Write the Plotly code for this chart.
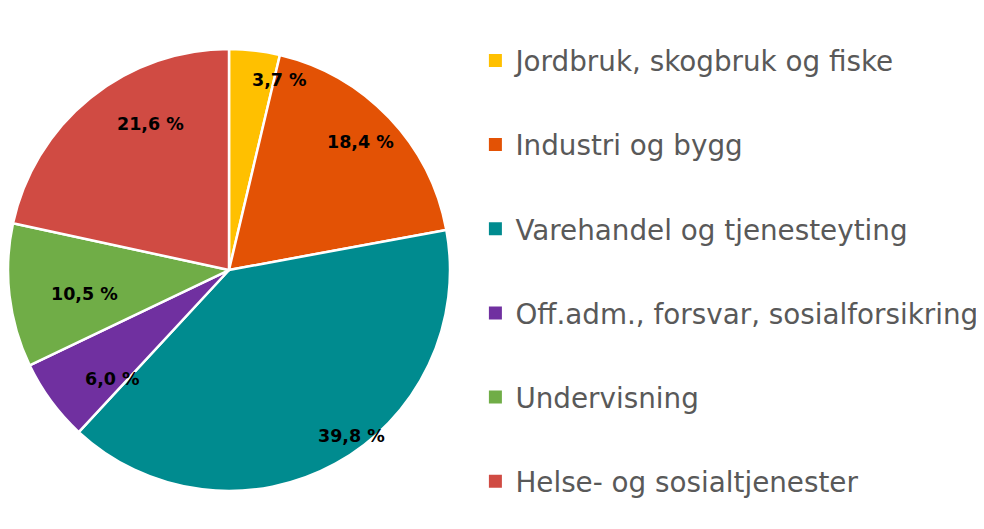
import math
import plotly.graph_objects as go

categories = [
    "Jordbruk, skogbruk og fiske",
    "Industri og bygg",
    "Varehandel og tjenesteyting",
    "Off.adm., forsvar, sosialforsikring",
    "Undervisning",
    "Helse- og sosialtjenester",
]
values = [3.7, 18.4, 39.8, 6.0, 10.5, 21.6]
colors = ["#FFC000", "#E35205", "#008B8F", "#7030A0", "#70AD47", "#D04B43"]

W, H = 984, 529
labels_txt = [f"{v:.1f}".replace(".", ",") + " %" for v in values]

# pie domain (paper fractions)
dom_x = [0.0, 0.4492]
dom_y = [0.0869, 0.9225]

fig = go.Figure()
fig.add_trace(go.Pie(
    labels=categories, values=values, sort=False, direction="clockwise",
    rotation=0, marker=dict(colors=colors, line=dict(color="white", width=2.5)),
    textinfo="none", showlegend=False, hoverinfo="label+percent",
    domain=dict(x=dom_x, y=dom_y),
))

# labels positioned from the data (mid-angle of each slice)
cx = (dom_x[0] + dom_x[1]) / 2 * W
cy = (1 - (dom_y[0] + dom_y[1]) / 2) * H
R = min((dom_x[1] - dom_x[0]) * W, (dom_y[1] - dom_y[0]) * H) / 2
total = sum(values)
cum = 0
for v, t in zip(values, labels_txt):
    mid = (cum + v / 2) / total * 2 * math.pi
    cum += v
    px = cx + 0.82 * R * math.sin(mid)
    py = cy - 0.92 * R * math.cos(mid)
    fig.add_annotation(x=px / W, y=1 - py / H, xref="paper", yref="paper",
                       text=f"<b>{t}</b>", showarrow=False,
                       font=dict(family="DejaVu Sans", size=17.5, color="black"))

# legend entries
for c, col in zip(categories, colors):
    fig.add_trace(go.Scatter(
        x=[None], y=[None], mode="markers", name=c, legendgroup=c,
        marker=dict(symbol="square", size=13, color=col),
    ))

fig.update_layout(
    width=W, height=H, margin=dict(l=0, r=0, t=0, b=0),
    paper_bgcolor="white", plot_bgcolor="white",
    xaxis=dict(visible=False), yaxis=dict(visible=False),
    legend=dict(x=0.475, y=0.503, yanchor="middle", xanchor="left",
                font=dict(family="DejaVu Sans", size=27.8, color="#595959"),
                tracegroupgap=45, itemwidth=30, bgcolor="rgba(0,0,0,0)"),
)

fig.write_html("out.html")
